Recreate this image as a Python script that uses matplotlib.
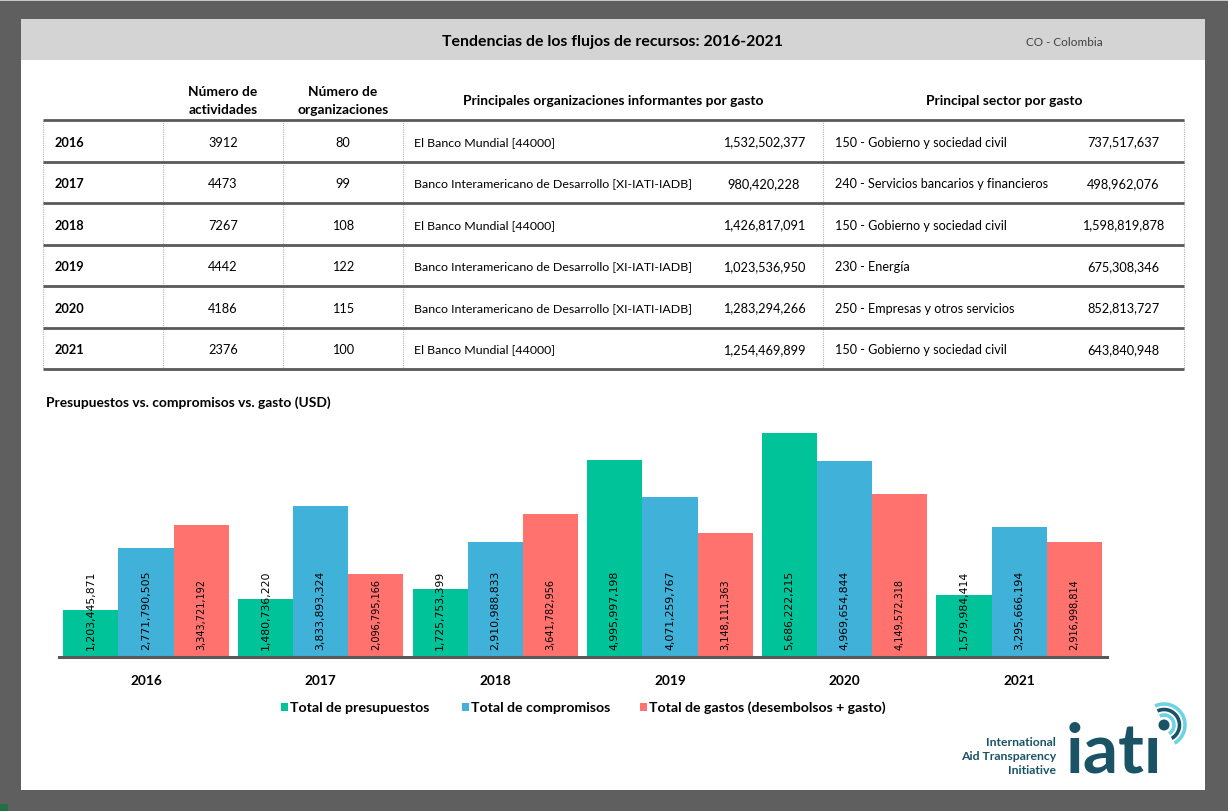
import matplotlib
matplotlib.use('Agg')
import matplotlib.pyplot as plt
from matplotlib.patches import Rectangle, Arc, Circle

# ---------------- data ----------------
years = ['2016', '2017', '2018', '2019', '2020', '2021']
n_actividades = [3912, 4473, 7267, 4442, 4186, 2376]
n_organizaciones = [80, 99, 108, 122, 115, 100]
top_org = ['El Banco Mundial [44000]',
           'Banco Interamericano de Desarrollo [XI-IATI-IADB]',
           'El Banco Mundial [44000]',
           'Banco Interamericano de Desarrollo [XI-IATI-IADB]',
           'Banco Interamericano de Desarrollo [XI-IATI-IADB]',
           'El Banco Mundial [44000]']
top_org_gasto = [1532502377, 980420228, 1426817091, 1023536950, 1283294266, 1254469899]
top_sector = ['150 - Gobierno y sociedad civil',
              '240 - Servicios bancarios y financieros',
              '150 - Gobierno y sociedad civil',
              '230 - Energía',
              '250 - Empresas y otros servicios',
              '150 - Gobierno y sociedad civil']
top_sector_gasto = [737517637, 498962076, 1598819878, 675308346, 852813727, 643840948]

presupuestos = [1203445871, 1480736220, 1725753399, 4995997198, 5686222215, 1579984414]
compromisos = [2771790505, 3833893324, 2910988833, 4071259767, 4969654844, 3295666194]
gastos = [3343721192, 2096795166, 3641782956, 3148111363, 4149572318, 2916998814]
series_names = ['Total de presupuestos', 'Total de compromisos',
                'Total de gastos (desembolsos + gasto)']
series_colors = ['#00C39A', '#40B1D8', '#FF726E']

title = 'Tendencias de los flujos de recursos: 2016-2021'
country = 'CO - Colombia'
chart_title = 'Presupuestos vs. compromisos vs. gasto (USD)'
col_headers = ['Número de\nactividades', 'Número de\norganizaciones',
               'Principales organizaciones informantes por gasto',
               'Principal sector por gasto']

# ---------------- layout ----------------
W, H, DPI = 1228, 812, 100
FONT = ['Lato', 'DejaVu Sans']
plt.rcParams['font.family'] = FONT

fig = plt.figure(figsize=(W / DPI, H / DPI), dpi=DPI)
fig.patch.set_facecolor('#5f5f5f')

bg = fig.add_axes([0, 0, 1, 1])
bg.set_xlim(0, W)
bg.set_ylim(H, 0)
bg.axis('off')

bg.add_patch(Rectangle((0, 0), W, 1.5, color='#c8c8c8', lw=0))
bg.add_patch(Rectangle((21, 20), 1184, 771, color='white', lw=0))
bg.add_patch(Rectangle((21, 20), 1184, 41, color='#d4d4d4', lw=0))
bg.add_patch(Rectangle((0, 805), 8, 7, color='#1e7145', lw=0))

bg.text(613, 42, title, ha='center', va='center', fontsize=11.4, fontweight='bold', color='black')
bg.text(1064, 42, country, ha='center', va='center', fontsize=8.5, color='#404040')

# table header
hdr_x = [223, 343, 613, 1004]
for x, t in zip(hdr_x, col_headers):
    bg.text(x, 101, t, ha='center', va='center', fontsize=9.9, fontweight='bold',
            linespacing=1.5, color='black')

# table grid
top, row_h = 121, 41.5
nrows = len(years)
for x in [43, 163, 283, 403, 823, 1184]:
    bg.plot([x, x], [top, top + nrows * row_h], color='#b5b5b5', lw=0.8,
            linestyle=(0, (1, 1)))
for i in range(nrows + 1):
    y = top + i * row_h
    bg.plot([43, 1184], [y, y], color='#595959', lw=2.0, solid_capstyle='butt')

for i in range(nrows):
    yc = top + (i + 0.5) * row_h + 0.8
    bg.text(55, yc, years[i], ha='left', va='center', fontsize=9.2, fontweight='bold')
    bg.text(223, yc, str(n_actividades[i]), ha='center', va='center', fontsize=9.2)
    bg.text(343, yc, str(n_organizaciones[i]), ha='center', va='center', fontsize=9.2)
    bg.text(414, yc, top_org[i], ha='left', va='center', fontsize=8.9)
    bg.text(764, yc, f'{top_org_gasto[i]:,}', ha='center', va='center', fontsize=9.2)
    bg.text(835, yc, top_sector[i], ha='left', va='center', fontsize=9.1)
    bg.text(1123, yc, f'{top_sector_gasto[i]:,}', ha='center', va='center', fontsize=9.2)

bg.text(46, 403, chart_title, ha='left', va='center', fontsize=9.9, fontweight='bold')

# legend (manual)
leg_x = [285, 466, 644]
for x, name, c in zip(leg_x, series_names, series_colors):
    bg.add_patch(Rectangle((x - 4, 704), 7, 8, color=c, lw=0))
    bg.text(x + 5, 708, name, ha='left', va='center', fontsize=10.2, fontweight='bold')

# IATI logo
logo_c = '#1b5366'
for y, t in zip([743, 757, 771], ['International', 'Aid Transparency', 'Initiative']):
    bg.text(1056, y, t, ha='right', va='center', fontsize=8.8, fontweight='bold', color=logo_c)
bg.text(1066, 773, 'iat\u0131', ha='left', va='baseline', fontsize=50, fontweight='bold',
        color=logo_c, family=FONT)
cx, cy = 1164, 726
bg.add_patch(Circle((cx, cy), 5.5, color=logo_c, lw=0))
for r, col in [(10, '#6dd3e3'), (15.5, logo_c), (21, '#6dd3e3')]:
    bg.add_patch(Arc((cx, cy), 2 * r, 2 * r, theta1=-115, theta2=60, color=col, lw=2.6))

# ---------------- bar chart ----------------
base_y, x0, x1 = 658, 58.7, 1106.6
px_per_unit = 39.4e-9
ymax = 6e9
ax = fig.add_axes([x0 / W, (H - base_y) / H, (x1 - x0) / W, ymax * px_per_unit / H])
ax.set_facecolor('none')
ax.set_xlim(-0.5, len(years) - 0.5)
ax.set_ylim(0, ymax)
bw = 0.316
xs = list(range(len(years)))
all_series = [presupuestos, compromisos, gastos]
label_sizes = [7.8, 7.8, 7.0]
for k, (vals, col) in enumerate(zip(all_series, series_colors)):
    pos = [x + (k - 1) * bw for x in xs]
    ax.bar(pos, vals, width=bw, color=col, lw=0, zorder=2)
    for p, v in zip(pos, vals):
        ax.annotate(f'{v:,}', xy=(p, 0), xytext=(0, 5.8), textcoords='offset points',
                    rotation=90, ha='center', va='bottom', fontsize=label_sizes[k],
                    family=['DejaVu Sans'], color='black', zorder=3)

for s in ['top', 'left', 'right']:
    ax.spines[s].set_visible(False)
ax.spines['bottom'].set_color('#595959')
ax.spines['bottom'].set_linewidth(2.2)
ax.spines['bottom'].set_zorder(4)
ax.set_yticks([])
ax.set_xticks(xs)
ax.set_xticklabels(years, fontsize=9.8, fontweight='bold')
ax.tick_params(axis='x', length=0, pad=12)

fig.savefig('out.png', dpi=DPI, facecolor=fig.get_facecolor())
